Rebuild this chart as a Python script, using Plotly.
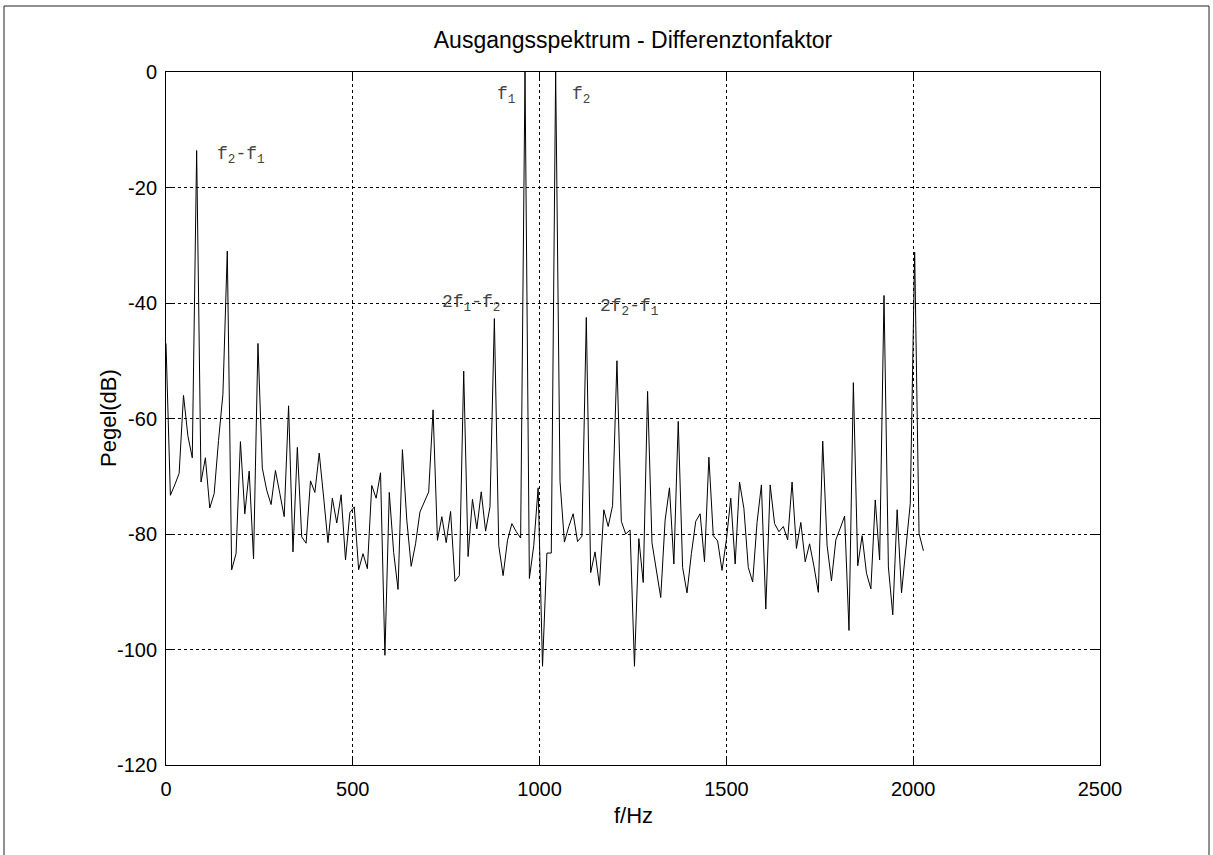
import numpy as np
import plotly.graph_objects as go

# FFT bin width (Hz) read from the spacing of the points
DF = 11.71875

levels_db = [
    -47.0, -73.3, -71.5, -69.5, -56.0, -63.0, -66.8, -13.6, -71.0, -66.8,
    -75.5, -73.0, -63.8, -55.8, -31.0, -86.2, -83.4, -64.0, -76.5, -69.1,
    -84.3, -47.0, -68.6, -72.4, -74.9, -69.0, -73.0, -77.0, -57.8, -83.1,
    -65.0, -80.5, -81.6, -70.8, -72.8, -66.0, -73.6, -81.5, -73.8, -78.1,
    -73.2, -84.5, -76.3, -75.3, -86.2, -83.4, -86.0, -71.6, -73.8, -69.4,
    -101.0, -72.8, -83.2, -89.6, -65.4, -77.6, -85.6, -81.7, -76.2, -74.4,
    -72.7, -58.5, -81.1, -77.0, -81.5, -76.1, -88.2, -87.2, -51.8, -83.9,
    -74.0, -79.1, -72.7, -79.5, -75.3, -42.7, -82.0, -87.2, -81.1, -78.2,
    -79.6, -80.7, 0.0, -87.7, -82.0, -72.0, -102.9, -83.3, -83.3, 0.0,
    -70.9, -81.4, -78.7, -76.5, -81.3, -80.4, -42.5, -86.7, -83.1, -88.9,
    -75.8, -78.7, -75.1, -50.0, -77.8, -80.0, -79.3, -102.9, -80.8, -88.4,
    -55.3, -81.5, -86.2, -91.0, -77.6, -72.0, -85.2, -60.5, -85.8, -90.2,
    -83.4, -77.8, -76.5, -84.8, -66.7, -80.3, -81.2, -86.3, -81.0, -73.8,
    -85.2, -71.0, -75.6, -85.8, -88.3, -78.0, -71.5, -93.0, -71.5, -78.2,
    -79.6, -78.7, -81.0, -71.0, -82.5, -78.0, -84.8, -81.7, -85.6, -90.1,
    -63.9, -82.0, -88.1, -81.0, -79.0, -76.9, -96.7, -53.8, -85.5, -80.3,
    -86.8, -89.5, -74.1, -84.5, -38.7, -85.7, -94.0, -75.8, -90.2, -82.8,
    -74.7, -31.2, -79.9, -82.9,
]
freq_hz = np.arange(len(levels_db)) * DF

x_ticks = [0, 500, 1000, 1500, 2000, 2500]
y_ticks = [0, -20, -40, -60, -80, -100, -120]

label_texts = ["f<sub>2</sub>-f<sub>1</sub>", "f<sub>1</sub>", "f<sub>2</sub>",
               "2f<sub>1</sub>-f<sub>2</sub>", "2f<sub>2</sub>-f<sub>1</sub>"]
label_x = [130, 880, 1082, 734, 1155]
label_y = [-14.5, -4.0, -4.0, -40.0, -40.8]

title_text = "Ausgangsspektrum - Differenztonfaktor"
x_title = "f/Hz"
y_title = "Pegel(dB)"

W, H = 1213, 855
L, R, T, B = 166, 1100, 72, 765

fig = go.Figure()
fig.add_trace(go.Scatter(x=freq_hz, y=levels_db, mode="lines",
                         line=dict(color="#000000", width=1), showlegend=False,
                         hoverinfo="skip"))

sans = "Arial, Liberation Sans, Helvetica, sans-serif"
mono = "Courier New, Liberation Mono, Courier, monospace"

axis_common = dict(showgrid=True, gridcolor="#000000", gridwidth=1, griddash="3px,3px",
                   showline=True, linecolor="#000000", linewidth=1, mirror="ticks",
                   ticks="inside", ticklen=7, tickcolor="#000000", zeroline=False,
                   tickfont=dict(family=sans, size=20, color="#000000"))

fig.update_xaxes(range=[0, 2500], tickvals=x_ticks, ticktext=[str(v) for v in x_ticks],
                 ticklabelstandoff=6, **axis_common)
fig.update_yaxes(range=[-120, 0], tickvals=y_ticks, ticktext=[str(v) for v in y_ticks],
                 ticklabelstandoff=4, **axis_common)

annotations = []
for t, x, y in zip(label_texts, label_x, label_y):
    annotations.append(dict(x=x, y=y, xref="x", yref="y", text=t, showarrow=False,
                            xanchor="left", yanchor="middle",
                            font=dict(family=mono, size=18, color="#444444")))

def px_x(p):
    return (p - L) / (R - L)

def px_y(p):
    return (B - p) / (B - T)

annotations.append(dict(x=px_x(633), y=px_y(815), xref="paper", yref="paper",
                        text=x_title, showarrow=False, xanchor="center", yanchor="middle",
                        font=dict(family=sans, size=22, color="#000000")))
annotations.append(dict(x=px_x(108), y=px_y(418), xref="paper", yref="paper",
                        text=y_title, showarrow=False, xanchor="center", yanchor="middle",
                        textangle=-90, font=dict(family=sans, size=22, color="#000000")))

shapes = [dict(type="rect", xref="paper", yref="paper",
               x0=px_x(4), x1=px_x(1209), y0=px_y(6), y1=px_y(870),
               line=dict(color="#222222", width=1), fillcolor="rgba(0,0,0,0)", layer="below")]

fig.update_layout(
    width=W, height=H, autosize=False,
    margin=dict(l=L, r=W - R, t=T, b=H - B),
    paper_bgcolor="#ffffff", plot_bgcolor="#ffffff",
    title=dict(text=title_text, x=px_x(633), xref="paper", xanchor="center",
               y=1 - 40 / H, yref="container", yanchor="middle",
               font=dict(family=sans, size=23, color="#000000")),
    annotations=annotations, shapes=shapes,
)

fig.write_html("out.html", config={"displayModeBar": False},
               post_script="document.body.style.margin='0px';document.body.style.overflow='hidden';")
